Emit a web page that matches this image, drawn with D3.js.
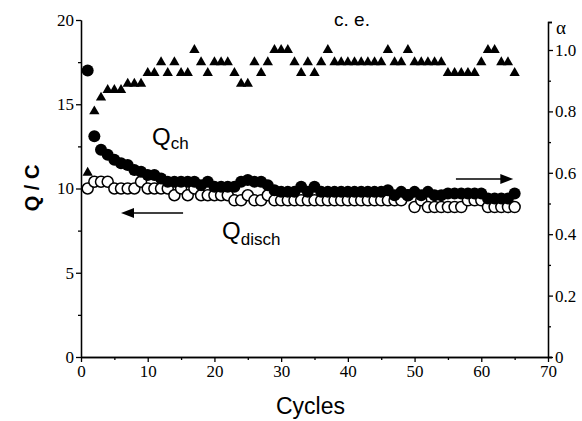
<!DOCTYPE html>
<html>
<head>
<meta charset="utf-8">
<script src="https://cdn.jsdelivr.net/npm/d3@7"></script>
<style>
  body { margin: 0; background: #fff; }
  svg { display: block; }
  .tick text { font-family: "Liberation Serif", serif; font-size: 17px; fill: #000; }
  .domain, .tick line { stroke: #000; stroke-width: 1.3; }
</style>
</head>
<body>
<script>
const width = 582;
const height = 421;

// cycle number for each point
const cycles = [1, 2, 3, 4, 5, 6, 7, 8, 9, 10, 11, 12, 13, 14, 15, 16, 17, 18, 19, 20,
  21, 22, 23, 24, 25, 26, 27, 28, 29, 30, 31, 32, 33, 34, 35, 36, 37, 38, 39, 40,
  41, 42, 43, 44, 45, 46, 47, 48, 49, 50, 51, 52, 53, 54, 55, 56, 57, 58, 59, 60,
  61, 62, 63, 64, 65];

// charge capacity (filled circles)
const qCh = [17.0, 13.1, 12.3, 12.0, 11.7, 11.5, 11.4, 11.1, 11.0, 10.8,
  10.8, 10.6, 10.4, 10.4, 10.4, 10.4, 10.4, 10.2, 10.4, 10.1,
  10.1, 10.1, 10.1, 10.4, 10.5, 10.4, 10.4, 10.2, 9.9, 9.8,
  9.8, 9.8, 10.1, 9.8, 10.1, 9.8, 9.8, 9.8, 9.8, 9.8,
  9.8, 9.8, 9.8, 9.8, 9.8, 9.9, 9.6, 9.8, 9.6, 9.8,
  9.6, 9.8, 9.6, 9.6, 9.7, 9.7, 9.7, 9.7, 9.7, 9.7,
  9.4, 9.4, 9.4, 9.4, 9.7];

// discharge capacity (open circles)
const qDisch = [10.0, 10.4, 10.4, 10.4, 10.0, 10.0, 10.0, 10.0, 10.4, 10.0,
  10.0, 10.0, 10.0, 9.6, 10.0, 9.6, 10.0, 9.6, 9.6, 9.6,
  9.6, 9.6, 9.3, 9.3, 9.6, 9.3, 9.3, 9.6, 9.3, 9.3,
  9.3, 9.3, 9.3, 9.3, 9.3, 9.3, 9.3, 9.3, 9.3, 9.3,
  9.3, 9.3, 9.3, 9.3, 9.3, 9.3, 9.3, 9.3, 9.6, 8.9,
  9.3, 8.9, 8.9, 8.9, 8.9, 8.9, 8.9, 9.3, 9.3, 9.3,
  8.9, 8.9, 8.9, 8.9, 8.9];

// coulombic efficiency alpha (triangles, right axis)
const alpha = [0.60, 0.80, 0.845, 0.87, 0.87, 0.87, 0.89, 0.89, 0.89, 0.925,
  0.925, 0.96, 0.925, 0.96, 0.925, 0.925, 1.0, 0.96, 0.925, 0.96,
  0.96, 0.96, 0.925, 0.89, 0.89, 0.96, 0.925, 0.96, 1.0, 1.0,
  1.0, 0.96, 0.925, 0.96, 0.925, 0.96, 1.0, 0.96, 0.96, 0.96,
  0.96, 0.96, 0.96, 0.96, 0.96, 1.0, 0.96, 0.96, 1.0, 0.96,
  0.96, 0.96, 0.96, 0.96, 0.925, 0.925, 0.925, 0.925, 0.925, 0.96,
  1.0, 1.0, 0.96, 0.96, 0.925];

const xTicks = [0, 10, 20, 30, 40, 50, 60, 70];
const xMinor = [5, 15, 25, 35, 45, 55, 65];
const yTicks = [0, 5, 10, 15, 20];
const yMinor = [2.5, 7.5, 12.5, 17.5];
const aTicks = [0, 0.2, 0.4, 0.6, 0.8, 1.0];
const aMinor = [0.1, 0.3, 0.5, 0.7, 0.9];

const x = d3.scaleLinear().domain([0, 70]).range([81, 548]);
const y = d3.scaleLinear().domain([0, 20]).range([357, 20]);
const yR = d3.scaleLinear().domain([0, 1.0912]).range([357, 22]);

const svg = d3.select("body")
  .append("svg")
  .attr("width", width)
  .attr("height", height);

// axes
svg.append("g")
  .attr("transform", `translate(0,${y(0)})`)
  .call(d3.axisBottom(x).tickValues(xMinor).tickSize(3).tickSizeOuter(0).tickFormat(""));
svg.append("g")
  .attr("transform", `translate(0,${y(0)})`)
  .call(d3.axisBottom(x).tickValues(xTicks).tickSize(5).tickSizeOuter(0).tickPadding(3));

svg.append("g")
  .attr("transform", `translate(${x(0)},0)`)
  .call(d3.axisLeft(y).tickValues(yMinor).tickSize(3).tickSizeOuter(0).tickFormat(""));
svg.append("g")
  .attr("transform", `translate(${x(0)},0)`)
  .call(d3.axisLeft(y).tickValues(yTicks).tickSize(5).tickSizeOuter(0).tickPadding(2));

svg.append("g")
  .attr("transform", `translate(${x(70)},0)`)
  .call(d3.axisRight(yR).tickValues(aMinor).tickSize(3).tickSizeOuter(4).tickFormat(""));
svg.append("g")
  .attr("transform", `translate(${x(70)},0)`)
  .call(d3.axisRight(yR).tickValues(aTicks).tickSize(5).tickSizeOuter(4).tickPadding(2)
    .tickFormat(d => d === 0 ? "0" : d3.format(".1f")(d)));

svg.append("text")
  .attr("x", 556).attr("y", 34)
  .attr("font-family", "Liberation Serif, serif")
  .attr("font-size", 19)
  .text("α");

// axis titles
svg.append("text")
  .attr("x", x(35) - 4).attr("y", 414)
  .attr("text-anchor", "middle")
  .attr("font-family", "Liberation Sans, Arial, sans-serif")
  .attr("font-size", 23)
  .text("Cycles");

svg.append("text")
  .attr("transform", "translate(39,188) rotate(-90)")
  .attr("text-anchor", "middle")
  .attr("font-family", "Liberation Sans, Arial, sans-serif")
  .attr("font-weight", "bold")
  .attr("font-size", 20)
  .text("Q / C");

svg.append("text")
  .attr("x", 352).attr("y", 26)
  .attr("text-anchor", "middle")
  .attr("font-family", "Liberation Sans, Arial, sans-serif")
  .attr("font-size", 19)
  .text("c. e.");

// points
const pts = cycles.map((c, i) => ({c: c, ch: qCh[i], dis: qDisch[i], a: alpha[i]}));

svg.append("g")
  .selectAll("circle")
  .data(pts)
  .join("circle")
  .attr("cx", d => x(d.c))
  .attr("cy", d => y(d.dis))
  .attr("r", 5.5)
  .attr("fill", "#fff")
  .attr("stroke", "#000")
  .attr("stroke-width", 1.5);

svg.append("g")
  .selectAll("circle")
  .data(pts)
  .join("circle")
  .attr("cx", d => x(d.c))
  .attr("cy", d => y(d.ch))
  .attr("r", 6)
  .attr("fill", "#000");

const tri = d3.symbol().type(d3.symbolTriangle).size(46);
svg.append("g")
  .selectAll("path")
  .data(pts)
  .join("path")
  .attr("transform", d => `translate(${x(d.c)},${yR(d.a)})`)
  .attr("d", tri)
  .attr("fill", "#000");

// labels
const lab = svg.append("g")
  .attr("font-family", "Liberation Sans, Arial, sans-serif");
const t1 = lab.append("text").attr("x", 152).attr("y", 145);
t1.append("tspan").attr("font-size", 24).text("Q");
t1.append("tspan").attr("font-size", 17).attr("dy", 4).text("ch");

const t2 = lab.append("text").attr("x", 222).attr("y", 239);
t2.append("tspan").attr("font-size", 24).text("Q");
t2.append("tspan").attr("font-size", 17).attr("dy", 6).text("disch");

// arrows
function arrow(x1, x2, yy) {
  const dir = Math.sign(x2 - x1);
  svg.append("line")
    .attr("x1", x1).attr("x2", x2 - dir * 10)
    .attr("y1", yy).attr("y2", yy)
    .attr("stroke", "#000").attr("stroke-width", 1.4);
  svg.append("path")
    .attr("d", `M${x2},${yy} L${x2 - dir * 13},${yy - 5} L${x2 - dir * 13},${yy + 5} Z`)
    .attr("fill", "#000");
}
arrow(x(15.3), x(6.0), y(8.55));
arrow(x(56.2), x(64.8), yR(0.58));
</script>
</body>
</html>
